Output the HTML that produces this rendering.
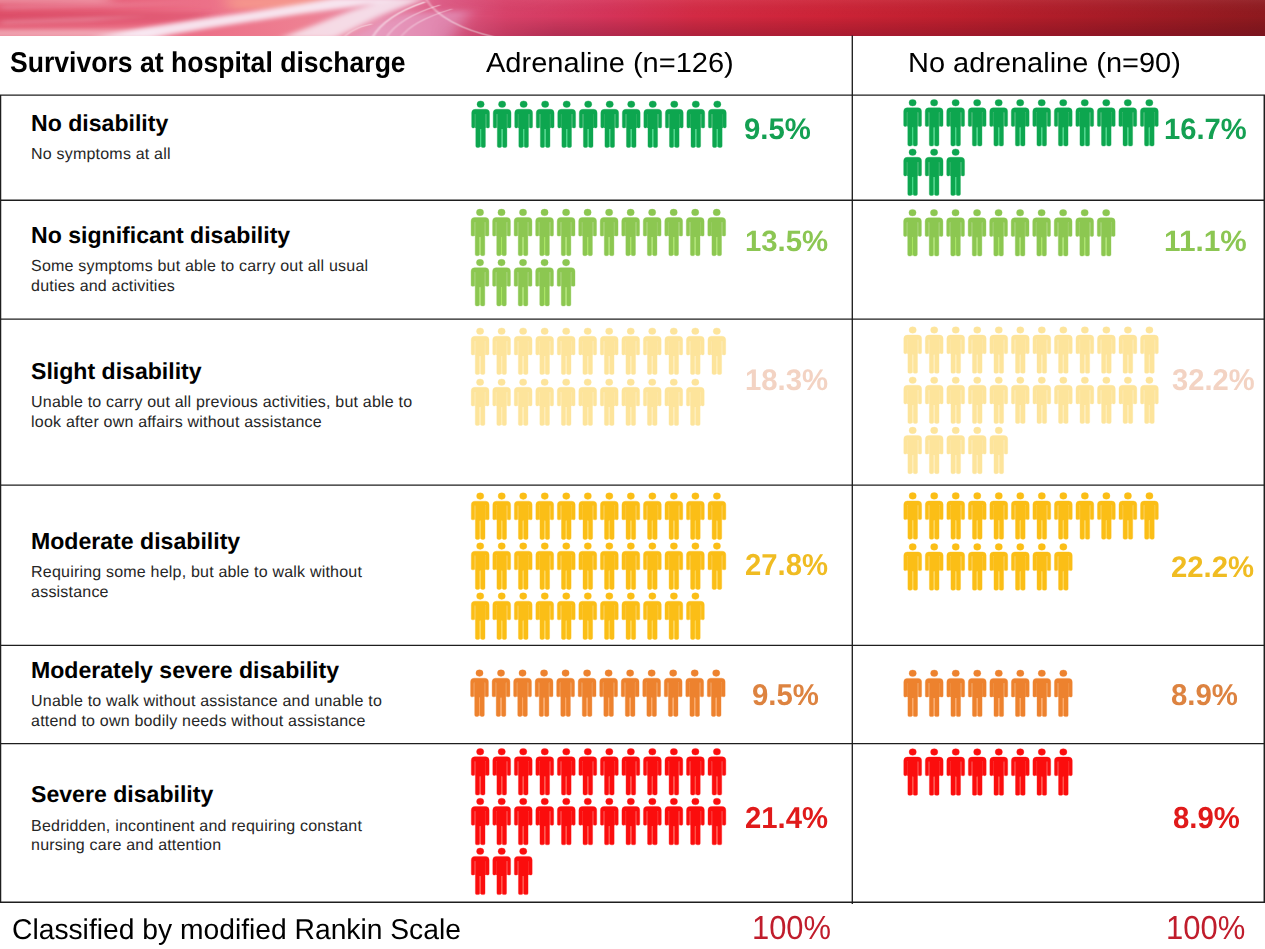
<!DOCTYPE html><html><head><meta charset="utf-8"><title>Survivors at hospital discharge</title>
<style>
html,body{margin:0;padding:0;background:#fff;}
body{width:1265px;height:949px;overflow:hidden;position:relative;text-rendering:geometricPrecision;font-family:"Liberation Sans",sans-serif;color:#000;}
.abs{position:absolute;}
.t{position:absolute;white-space:nowrap;line-height:1;transform-origin:0 0;}
.ln{position:absolute;background:#1c1c1c;}
</style></head><body>
<svg id="banner" class="abs" style="left:0;top:0" width="1265" height="36" viewBox="0 0 1265 36" preserveAspectRatio="none"><defs><linearGradient id="bg" x1="0" x2="1" y1="0" y2="0"><stop offset="0" stop-color="#E2566F"/><stop offset=".08" stop-color="#E65F78"/><stop offset=".16" stop-color="#EC7088"/><stop offset=".24" stop-color="#EE8092"/><stop offset=".30" stop-color="#E88AA8"/><stop offset=".35" stop-color="#DC5C86"/><stop offset=".40" stop-color="#D8426A"/><stop offset=".48" stop-color="#D6345A"/><stop offset=".55" stop-color="#D42B45"/><stop offset=".65" stop-color="#CE2438"/><stop offset=".75" stop-color="#C0202F"/><stop offset=".88" stop-color="#A81C27"/><stop offset="1" stop-color="#8F1A1F"/></linearGradient><linearGradient id="bd" x1="0" x2="0" y1="0" y2="1"><stop offset="0" stop-color="#fff" stop-opacity=".06"/><stop offset=".45" stop-color="#000" stop-opacity="0"/><stop offset="1" stop-color="#300020" stop-opacity=".22"/></linearGradient><linearGradient id="bm" x1="0" x2="1" y1="0" y2="0"><stop offset="0" stop-color="#fff" stop-opacity="0"/><stop offset=".15" stop-color="#fff" stop-opacity="1"/><stop offset="1" stop-color="#fff" stop-opacity="1"/></linearGradient><mask id="mk"><rect x="430" width="835" height="36" fill="url(#bm)"/></mask><filter id="b1" x="-5%" y="-60%" width="110%" height="220%"><feGaussianBlur stdDeviation="4.5 1.9"/></filter><filter id="b2" x="-5%" y="-60%" width="110%" height="220%"><feGaussianBlur stdDeviation="1.2 0.7"/></filter><filter id="b3" x="-5%" y="-60%" width="110%" height="220%"><feGaussianBlur stdDeviation="8 2.5"/></filter></defs><rect width="1265" height="36" fill="url(#bg)"/><g filter="url(#b3)"><rect x="-20" y="29" width="180" height="9" fill="#fff" fill-opacity=".45"/><rect x="-20" y="-3" width="130" height="6" fill="#fff" fill-opacity=".35"/><rect x="-20" y="12" width="230" height="10" fill="#D03A5C" fill-opacity=".35"/><polygon points="225,-3 340,-3 300,8 230,10" fill="#F8A08C" fill-opacity=".7"/><polygon points="340,40 450,40 470,10 400,14" fill="#E6A8D0" fill-opacity=".55"/></g><g filter="url(#b1)" fill="#F8F0F8"><polygon points="90,38 150,38 215,27 300,14 352,7 405,-2 335,-2 300,4 250,12 200,19 150,27" fill-opacity=".9"/><polygon points="280,38 335,38 382,15 428,-2 392,-2 350,11 312,26" fill-opacity=".8"/><polygon points="0,24 90,21 150,16 90,18 0,21" fill-opacity=".35"/><polygon points="0,9 120,6 200,2 120,4 0,6" fill-opacity=".3"/></g><g filter="url(#b2)" fill="none" stroke="#fff"><path d="M372 38C380 24 395 12 425 2" stroke-width="1.6" stroke-opacity=".6"/><path d="M386 38C394 25 410 14 440 5" stroke-width="1.3" stroke-opacity=".5"/><path d="M400 38C408 27 422 18 452 9" stroke-width="1.1" stroke-opacity=".4"/><path d="M426 -1C436 16 462 30 495 37" stroke-width="1.5" stroke-opacity=".45"/><path d="M345 36C352 30 362 26 372 24" stroke-width="1.2" stroke-opacity=".45"/></g><rect x="430" width="835" height="36" fill="url(#bd)" mask="url(#mk)"/></svg>
<svg class="abs" style="left:0;top:0" width="1265" height="949" viewBox="0 0 1265 949"><g stroke="#1e1e1e" stroke-width="1.35" fill="none"><line x1="0" y1="95.1" x2="1265" y2="95.1"/><line x1="0" y1="200.2" x2="1265" y2="200.2"/><line x1="0" y1="319.1" x2="1265" y2="319.1"/><line x1="0" y1="485.1" x2="1265" y2="485.1"/><line x1="0" y1="645.3" x2="1265" y2="645.3"/><line x1="0" y1="743.6" x2="1265" y2="743.6"/><line x1="0" y1="902.2" x2="1265" y2="902.2"/><line x1="852.3" y1="35.5" x2="852.3" y2="904"/><line x1="0.6" y1="95" x2="0.6" y2="902.8" stroke-width="1.3"/><line x1="1264.3" y1="95" x2="1264.3" y2="902.8" stroke-width="1.5"/></g></svg>
<div class="t " style="left:9.88px;top:49px;font-size:28.73px;font-weight:bold;color:#000;transform:scaleX(0.9250)">Survivors at hospital discharge</div>
<div class="t " style="left:486.10px;top:49px;font-size:27.73px;color:#000;transform:scaleX(1.0475)">Adrenaline (n=126)</div>
<div class="t " style="left:908.14px;top:49px;font-size:27.73px;color:#000;transform:scaleX(1.0445)">No adrenaline (n=90)</div>
<div class="t " style="left:12.38px;top:916px;font-size:28.59px;color:#000;transform:scaleX(0.9882)">Classified by modified Rankin Scale</div>
<div class="t " style="left:751.87px;top:912px;font-size:33.28px;color:#C01D2C;transform:scaleX(0.9287)">100%</div>
<div class="t " style="left:1165.76px;top:912px;font-size:33.28px;color:#C01D2C;transform:scaleX(0.9312)">100%</div>
<svg class="abs" style="left:0;top:0" width="1265" height="949" viewBox="0 0 1265 949">
<defs><symbol id="p" overflow="visible"><ellipse cx="8.9" cy="3.3" rx="3.6" ry="3.3"/><path d="M3.5 8.4H14.3A3.5 3.5 0 0 1 17.8 11.9V25.9A1.1 1.1 0 0 1 16.7 27H15.7A1.1 1.1 0 0 1 14.6 25.9V13H13.7V45.2A1.4 1.4 0 0 1 12.3 46.6H10.8A1.4 1.4 0 0 1 9.4 45.2V28H8.4V45.2A1.4 1.4 0 0 1 7 46.6H5.5A1.4 1.4 0 0 1 4.1 45.2V13H3.2V25.9A1.1 1.1 0 0 1 2.1 27H1.1A1.1 1.1 0 0 1 0 25.9V11.9A3.5 3.5 0 0 1 3.5 8.4Z"/><path stroke="none" fill-opacity=".92" d="M3.2 13h.9v14h-.9zM13.7 13h.9v14h-.9z"/><path stroke="none" fill="currentColor" d="M8.4 28h1v18h-1z"/></symbol><filter id="soft" x="-2%" y="-2%" width="104%" height="104%"><feGaussianBlur stdDeviation="0.65"/></filter></defs><g filter="url(#soft)" stroke-opacity=".35" stroke-width="1.0" stroke-linejoin="round" paint-order="stroke">
<g fill="#10A64F" stroke="#10A64F" color="#3AD983"><use href="#p" x="471.70" y="100.90"/><use href="#p" x="493.22" y="100.90"/><use href="#p" x="514.74" y="100.90"/><use href="#p" x="536.26" y="100.90"/><use href="#p" x="557.78" y="100.90"/><use href="#p" x="579.30" y="100.90"/><use href="#p" x="600.82" y="100.90"/><use href="#p" x="622.34" y="100.90"/><use href="#p" x="643.86" y="100.90"/><use href="#p" x="665.38" y="100.90"/><use href="#p" x="686.90" y="100.90"/><use href="#p" x="708.42" y="100.90"/></g>
<g fill="#10A64F" stroke="#10A64F" color="#3AD983"><use href="#p" x="903.70" y="99.40"/><use href="#p" x="925.22" y="99.40"/><use href="#p" x="946.74" y="99.40"/><use href="#p" x="968.26" y="99.40"/><use href="#p" x="989.78" y="99.40"/><use href="#p" x="1011.30" y="99.40"/><use href="#p" x="1032.82" y="99.40"/><use href="#p" x="1054.34" y="99.40"/><use href="#p" x="1075.86" y="99.40"/><use href="#p" x="1097.38" y="99.40"/><use href="#p" x="1118.90" y="99.40"/><use href="#p" x="1140.42" y="99.40"/><use href="#p" x="903.70" y="148.90"/><use href="#p" x="925.22" y="148.90"/><use href="#p" x="946.74" y="148.90"/></g>
<g fill="#8CC751" stroke="#8CC751" color="#A8E660"><use href="#p" x="471.10" y="209.10"/><use href="#p" x="492.62" y="209.10"/><use href="#p" x="514.14" y="209.10"/><use href="#p" x="535.66" y="209.10"/><use href="#p" x="557.18" y="209.10"/><use href="#p" x="578.70" y="209.10"/><use href="#p" x="600.22" y="209.10"/><use href="#p" x="621.74" y="209.10"/><use href="#p" x="643.26" y="209.10"/><use href="#p" x="664.78" y="209.10"/><use href="#p" x="686.30" y="209.10"/><use href="#p" x="707.82" y="209.10"/><use href="#p" x="471.10" y="259.30"/><use href="#p" x="492.62" y="259.30"/><use href="#p" x="514.14" y="259.30"/><use href="#p" x="535.66" y="259.30"/><use href="#p" x="557.18" y="259.30"/></g>
<g fill="#8CC751" stroke="#8CC751" color="#A8E660"><use href="#p" x="903.60" y="209.40"/><use href="#p" x="925.12" y="209.40"/><use href="#p" x="946.64" y="209.40"/><use href="#p" x="968.16" y="209.40"/><use href="#p" x="989.68" y="209.40"/><use href="#p" x="1011.20" y="209.40"/><use href="#p" x="1032.72" y="209.40"/><use href="#p" x="1054.24" y="209.40"/><use href="#p" x="1075.76" y="209.40"/><use href="#p" x="1097.28" y="209.40"/></g>
<g fill="#FDE49B" stroke="#FDE49B" color="#FFEDB5"><use href="#p" x="471.20" y="327.90"/><use href="#p" x="492.72" y="327.90"/><use href="#p" x="514.24" y="327.90"/><use href="#p" x="535.76" y="327.90"/><use href="#p" x="557.28" y="327.90"/><use href="#p" x="578.80" y="327.90"/><use href="#p" x="600.32" y="327.90"/><use href="#p" x="621.84" y="327.90"/><use href="#p" x="643.36" y="327.90"/><use href="#p" x="664.88" y="327.90"/><use href="#p" x="686.40" y="327.90"/><use href="#p" x="707.92" y="327.90"/><use href="#p" x="471.20" y="378.90"/><use href="#p" x="492.72" y="378.90"/><use href="#p" x="514.24" y="378.90"/><use href="#p" x="535.76" y="378.90"/><use href="#p" x="557.28" y="378.90"/><use href="#p" x="578.80" y="378.90"/><use href="#p" x="600.32" y="378.90"/><use href="#p" x="621.84" y="378.90"/><use href="#p" x="643.36" y="378.90"/><use href="#p" x="664.88" y="378.90"/><use href="#p" x="686.40" y="378.90"/></g>
<g fill="#FDE49B" stroke="#FDE49B" color="#FFEDB5"><use href="#p" x="903.80" y="326.70"/><use href="#p" x="925.32" y="326.70"/><use href="#p" x="946.84" y="326.70"/><use href="#p" x="968.36" y="326.70"/><use href="#p" x="989.88" y="326.70"/><use href="#p" x="1011.40" y="326.70"/><use href="#p" x="1032.92" y="326.70"/><use href="#p" x="1054.44" y="326.70"/><use href="#p" x="1075.96" y="326.70"/><use href="#p" x="1097.48" y="326.70"/><use href="#p" x="1119.00" y="326.70"/><use href="#p" x="1140.52" y="326.70"/><use href="#p" x="903.80" y="376.90"/><use href="#p" x="925.32" y="376.90"/><use href="#p" x="946.84" y="376.90"/><use href="#p" x="968.36" y="376.90"/><use href="#p" x="989.88" y="376.90"/><use href="#p" x="1011.40" y="376.90"/><use href="#p" x="1032.92" y="376.90"/><use href="#p" x="1054.44" y="376.90"/><use href="#p" x="1075.96" y="376.90"/><use href="#p" x="1097.48" y="376.90"/><use href="#p" x="1119.00" y="376.90"/><use href="#p" x="1140.52" y="376.90"/><use href="#p" x="903.80" y="427.10"/><use href="#p" x="925.32" y="427.10"/><use href="#p" x="946.84" y="427.10"/><use href="#p" x="968.36" y="427.10"/><use href="#p" x="989.88" y="427.10"/></g>
<g fill="#FBBE17" stroke="#FBBE17" color="#FFD548"><use href="#p" x="471.30" y="492.80"/><use href="#p" x="492.82" y="492.80"/><use href="#p" x="514.34" y="492.80"/><use href="#p" x="535.86" y="492.80"/><use href="#p" x="557.38" y="492.80"/><use href="#p" x="578.90" y="492.80"/><use href="#p" x="600.42" y="492.80"/><use href="#p" x="621.94" y="492.80"/><use href="#p" x="643.46" y="492.80"/><use href="#p" x="664.98" y="492.80"/><use href="#p" x="686.50" y="492.80"/><use href="#p" x="708.02" y="492.80"/><use href="#p" x="471.30" y="542.80"/><use href="#p" x="492.82" y="542.80"/><use href="#p" x="514.34" y="542.80"/><use href="#p" x="535.86" y="542.80"/><use href="#p" x="557.38" y="542.80"/><use href="#p" x="578.90" y="542.80"/><use href="#p" x="600.42" y="542.80"/><use href="#p" x="621.94" y="542.80"/><use href="#p" x="643.46" y="542.80"/><use href="#p" x="664.98" y="542.80"/><use href="#p" x="686.50" y="542.80"/><use href="#p" x="708.02" y="542.80"/><use href="#p" x="471.30" y="592.80"/><use href="#p" x="492.82" y="592.80"/><use href="#p" x="514.34" y="592.80"/><use href="#p" x="535.86" y="592.80"/><use href="#p" x="557.38" y="592.80"/><use href="#p" x="578.90" y="592.80"/><use href="#p" x="600.42" y="592.80"/><use href="#p" x="621.94" y="592.80"/><use href="#p" x="643.46" y="592.80"/><use href="#p" x="664.98" y="592.80"/><use href="#p" x="686.50" y="592.80"/></g>
<g fill="#FBBE17" stroke="#FBBE17" color="#FFD548"><use href="#p" x="903.80" y="492.60"/><use href="#p" x="925.32" y="492.60"/><use href="#p" x="946.84" y="492.60"/><use href="#p" x="968.36" y="492.60"/><use href="#p" x="989.88" y="492.60"/><use href="#p" x="1011.40" y="492.60"/><use href="#p" x="1032.92" y="492.60"/><use href="#p" x="1054.44" y="492.60"/><use href="#p" x="1075.96" y="492.60"/><use href="#p" x="1097.48" y="492.60"/><use href="#p" x="1119.00" y="492.60"/><use href="#p" x="1140.52" y="492.60"/><use href="#p" x="903.80" y="543.60"/><use href="#p" x="925.32" y="543.60"/><use href="#p" x="946.84" y="543.60"/><use href="#p" x="968.36" y="543.60"/><use href="#p" x="989.88" y="543.60"/><use href="#p" x="1011.40" y="543.60"/><use href="#p" x="1032.92" y="543.60"/><use href="#p" x="1054.44" y="543.60"/></g>
<g fill="#ED822D" stroke="#ED822D" color="#FFA55E"><use href="#p" x="470.60" y="669.80"/><use href="#p" x="492.12" y="669.80"/><use href="#p" x="513.64" y="669.80"/><use href="#p" x="535.16" y="669.80"/><use href="#p" x="556.68" y="669.80"/><use href="#p" x="578.20" y="669.80"/><use href="#p" x="599.72" y="669.80"/><use href="#p" x="621.24" y="669.80"/><use href="#p" x="642.76" y="669.80"/><use href="#p" x="664.28" y="669.80"/><use href="#p" x="685.80" y="669.80"/><use href="#p" x="707.32" y="669.80"/></g>
<g fill="#ED822D" stroke="#ED822D" color="#FFA55E"><use href="#p" x="903.80" y="670.00"/><use href="#p" x="925.32" y="670.00"/><use href="#p" x="946.84" y="670.00"/><use href="#p" x="968.36" y="670.00"/><use href="#p" x="989.88" y="670.00"/><use href="#p" x="1011.40" y="670.00"/><use href="#p" x="1032.92" y="670.00"/><use href="#p" x="1054.44" y="670.00"/></g>
<g fill="#FB0F0F" stroke="#FB0F0F" color="#FF4A3C"><use href="#p" x="471.30" y="748.40"/><use href="#p" x="492.82" y="748.40"/><use href="#p" x="514.34" y="748.40"/><use href="#p" x="535.86" y="748.40"/><use href="#p" x="557.38" y="748.40"/><use href="#p" x="578.90" y="748.40"/><use href="#p" x="600.42" y="748.40"/><use href="#p" x="621.94" y="748.40"/><use href="#p" x="643.46" y="748.40"/><use href="#p" x="664.98" y="748.40"/><use href="#p" x="686.50" y="748.40"/><use href="#p" x="708.02" y="748.40"/><use href="#p" x="471.30" y="798.20"/><use href="#p" x="492.82" y="798.20"/><use href="#p" x="514.34" y="798.20"/><use href="#p" x="535.86" y="798.20"/><use href="#p" x="557.38" y="798.20"/><use href="#p" x="578.90" y="798.20"/><use href="#p" x="600.42" y="798.20"/><use href="#p" x="621.94" y="798.20"/><use href="#p" x="643.46" y="798.20"/><use href="#p" x="664.98" y="798.20"/><use href="#p" x="686.50" y="798.20"/><use href="#p" x="708.02" y="798.20"/><use href="#p" x="471.30" y="848.00"/><use href="#p" x="492.82" y="848.00"/><use href="#p" x="514.34" y="848.00"/></g>
<g fill="#FB0F0F" stroke="#FB0F0F" color="#FF4A3C"><use href="#p" x="903.80" y="748.70"/><use href="#p" x="925.32" y="748.70"/><use href="#p" x="946.84" y="748.70"/><use href="#p" x="968.36" y="748.70"/><use href="#p" x="989.88" y="748.70"/><use href="#p" x="1011.40" y="748.70"/><use href="#p" x="1032.92" y="748.70"/><use href="#p" x="1054.44" y="748.70"/></g>
</g></svg>
<div class="t" style="left:31.00px;top:112px;font-size:23.10px;font-weight:bold;color:#000;">No disability</div>
<div class="t" style="left:31.10px;top:147px;font-size:16.00px;letter-spacing:0.20px;color:#262626;">No symptoms at all</div>
<div class="t " style="left:743.78px;top:115px;font-size:29.72px;font-weight:bold;color:#14A052;transform:scaleX(0.9864)">9.5%</div>
<div class="t " style="left:1164.18px;top:115px;font-size:29.58px;font-weight:bold;color:#14A052;transform:scaleX(0.9852)">16.7%</div>
<div class="t" style="left:31.00px;top:224px;font-size:23.10px;font-weight:bold;color:#000;">No significant disability</div>
<div class="t" style="left:31.10px;top:259px;font-size:16.00px;letter-spacing:0.20px;color:#262626;">Some symptoms but able to carry out all usual</div>
<div class="t" style="left:31.10px;top:279px;font-size:16.00px;letter-spacing:0.20px;color:#262626;">duties and activities</div>
<div class="t " style="left:744.87px;top:227px;font-size:29.30px;font-weight:bold;color:#8CC653;transform:scaleX(1.0009)">13.5%</div>
<div class="t " style="left:1164.04px;top:227px;font-size:29.30px;font-weight:bold;color:#8CC653;transform:scaleX(1.0150)">11.1%</div>
<div class="t" style="left:31.00px;top:360px;font-size:23.10px;font-weight:bold;color:#000;">Slight disability</div>
<div class="t" style="left:31.10px;top:395px;font-size:16.00px;letter-spacing:0.20px;color:#262626;">Unable to carry out all previous activities, but able to</div>
<div class="t" style="left:31.10px;top:415px;font-size:16.00px;letter-spacing:0.20px;color:#262626;">look after own affairs without assistance</div>
<div class="t " style="left:744.87px;top:366px;font-size:29.72px;font-weight:bold;color:#F3D3C3;transform:scaleX(0.9865)">18.3%</div>
<div class="t " style="left:1171.95px;top:366px;font-size:30.01px;font-weight:bold;color:#F3D3C3;transform:scaleX(0.9704)">32.2%</div>
<div class="t" style="left:31.00px;top:530px;font-size:23.10px;font-weight:bold;color:#000;">Moderate disability</div>
<div class="t" style="left:31.10px;top:565px;font-size:16.00px;letter-spacing:0.20px;color:#262626;">Requiring some help, but able to walk without</div>
<div class="t" style="left:31.10px;top:585px;font-size:16.00px;letter-spacing:0.20px;color:#262626;">assistance</div>
<div class="t " style="left:744.98px;top:551px;font-size:30.29px;font-weight:bold;color:#F0BC22;transform:scaleX(0.9666)">27.8%</div>
<div class="t " style="left:1171.48px;top:553px;font-size:29.72px;font-weight:bold;color:#F0BC22;transform:scaleX(0.9851)">22.2%</div>
<div class="t" style="left:31.00px;top:659px;font-size:23.10px;font-weight:bold;color:#000;">Moderately severe disability</div>
<div class="t" style="left:31.10px;top:694px;font-size:16.00px;letter-spacing:0.20px;color:#262626;">Unable to walk without assistance and unable to</div>
<div class="t" style="left:31.10px;top:714px;font-size:16.00px;letter-spacing:0.20px;color:#262626;">attend to own bodily needs without assistance</div>
<div class="t " style="left:752.38px;top:681px;font-size:30.01px;font-weight:bold;color:#DD8340;transform:scaleX(0.9786)">9.5%</div>
<div class="t " style="left:1171.48px;top:681px;font-size:30.01px;font-weight:bold;color:#DD8340;transform:scaleX(0.9786)">8.9%</div>
<div class="t" style="left:31.00px;top:783px;font-size:23.10px;font-weight:bold;color:#000;">Severe disability</div>
<div class="t" style="left:31.10px;top:819px;font-size:16.00px;letter-spacing:0.20px;color:#262626;">Bedridden, incontinent and requiring constant</div>
<div class="t" style="left:31.10px;top:838px;font-size:16.00px;letter-spacing:0.20px;color:#262626;">nursing care and attention</div>
<div class="t " style="left:744.98px;top:804px;font-size:30.29px;font-weight:bold;color:#E01A1A;transform:scaleX(0.9666)">21.4%</div>
<div class="t " style="left:1172.78px;top:804px;font-size:30.29px;font-weight:bold;color:#E01A1A;transform:scaleX(0.9679)">8.9%</div>
</body></html>
